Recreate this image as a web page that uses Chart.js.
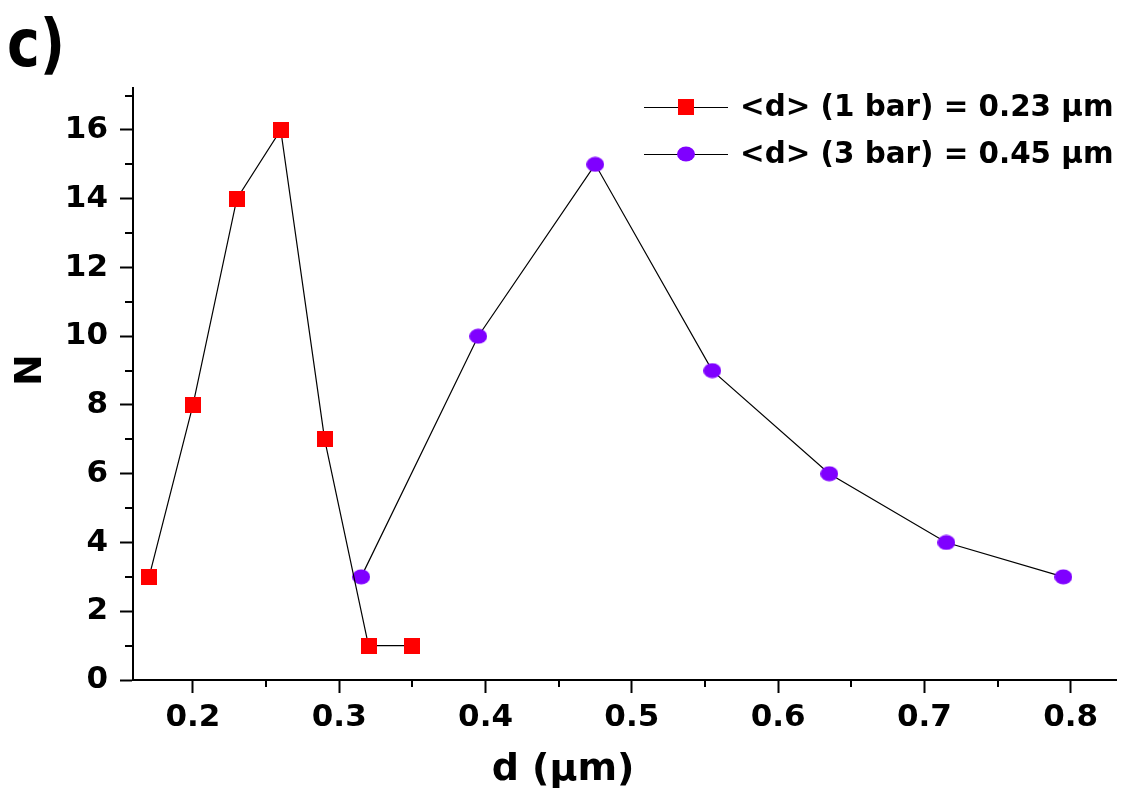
<!DOCTYPE html>
<html>
<head>
<meta charset="utf-8">
<script src="https://cdn.jsdelivr.net/npm/chart.js@4.4.1/dist/chart.umd.min.js"></script>
<style>
  html, body { margin: 0; padding: 0; background: #fff; }
  #wrap { position: relative; width: 1126px; height: 791px; }
</style>
</head>
<body>
<div id="wrap"><canvas id="chart"></canvas></div>
<script>
// values
const bar1X = [0.17, 0.20, 0.23, 0.26, 0.29, 0.32, 0.35];
const bar1N = [3, 8, 14, 16, 7, 1, 1];
const bar3X = [0.315, 0.395, 0.475, 0.555, 0.635, 0.715, 0.795];
const bar3N = [3, 10, 15, 9, 6, 4, 3];

const xTicks = [0.2, 0.3, 0.4, 0.5, 0.6, 0.7, 0.8];
const xMinor = [0.25, 0.35, 0.45, 0.55, 0.65, 0.75];
const yTicks = [0, 2, 4, 6, 8, 10, 12, 14, 16];
const yMinor = [1, 3, 5, 7, 9, 11, 13, 15, 17];

const labels = ["<d> (1 bar) = 0.23 \u03bcm", "<d> (3 bar) = 0.45 \u03bcm"];
const xTitle = "d (\u03bcm)";
const yTitle = "N";
const panelLabel = "c)";

const FONT = "'DejaVu Sans', sans-serif";

function markerImage(kind, color) {
  const c = document.createElement("canvas");
  const ctx = c.getContext("2d");
  if (kind === "square") {
    c.width = 16; c.height = 16;
    ctx.fillStyle = color;
    ctx.fillRect(0, 0, 16, 16);
  } else {
    c.width = 18; c.height = 16;
    ctx.fillStyle = color;
    ctx.beginPath();
    ctx.ellipse(9, 8, 9, 7.6, 0, 0, Math.PI * 2);
    ctx.fill();
  }
  return c;
}

const redSquare = markerImage("square", "#ff0000");
const violetDot = markerImage("dot", "#7f00ff");

const toPoints = (xs, ys) => xs.map((x, i) => ({ x, y: ys[i] }));

// minor ticks, axis titles, legend and panel letter
const extras = {
  id: "extras",
  afterDraw(chart) {
    const { ctx, scales: { x, y } } = chart;
    ctx.save();
    ctx.strokeStyle = "#000";
    ctx.lineWidth = 2;
    ctx.beginPath();
    xMinor.forEach((v) => {
      const px = Math.round(x.getPixelForValue(v));
      ctx.moveTo(px, y.bottom);
      ctx.lineTo(px, y.bottom + 7);
    });
    yMinor.forEach((v) => {
      const py = Math.round(y.getPixelForValue(v));
      ctx.moveTo(x.left, py);
      ctx.lineTo(x.left - 8, py);
    });
    ctx.stroke();

    ctx.fillStyle = "#000";

    // axis titles (the reference has them off-centre)
    ctx.font = `bold 38px ${FONT}`;
    ctx.textAlign = "center";
    ctx.textBaseline = "alphabetic";
    ctx.fillText(xTitle, 563, 780);
    ctx.save();
    ctx.translate(41, 370);
    ctx.rotate(-Math.PI / 2);
    ctx.fillText(yTitle, 0, 0);
    ctx.restore();

    // legend
    const rows = [
      { y: 107, img: redSquare },
      { y: 154, img: violetDot },
    ];
    ctx.font = `bold 29.4px ${FONT}`;
    ctx.textAlign = "left";
    ctx.textBaseline = "middle";
    rows.forEach((r, i) => {
      ctx.lineWidth = 1;
      ctx.beginPath();
      ctx.moveTo(644, r.y + 0.5);
      ctx.lineTo(728, r.y + 0.5);
      ctx.stroke();
      ctx.drawImage(r.img, 686 - r.img.width / 2, r.y - r.img.height / 2);
      ctx.fillText(chart.data.datasets[i].label, 740, r.y + 1);
    });

    // panel letter, slightly condensed
    ctx.save();
    ctx.font = `bold 66px ${FONT}`;
    ctx.textBaseline = "alphabetic";
    ctx.translate(7, 66);
    ctx.scale(0.84, 1);
    ctx.fillText(panelLabel, 0, 0);
    ctx.restore();
    ctx.restore();
  },
};

new Chart(document.getElementById("chart"), {
  type: "line",
  data: {
    datasets: [
      {
        label: labels[0],
        data: toPoints(bar1X, bar1N),
        borderColor: "#000",
        borderWidth: 1.2,
        pointStyle: redSquare,
        tension: 0,
      },
      {
        label: labels[1],
        data: toPoints(bar3X, bar3N),
        borderColor: "#000",
        borderWidth: 1.2,
        pointStyle: violetDot,
        tension: 0,
      },
    ],
  },
  options: {
    responsive: true,
    maintainAspectRatio: false,
    animation: false,
    layout: { padding: { top: 88, right: 10, left: 0, bottom: 0 } },
    plugins: { legend: { display: false }, tooltip: { enabled: false } },
    scales: {
      x: {
        type: "linear",
        min: 0.159,
        max: 0.831,
        afterFit: (s) => { s.height = 111; },
        afterBuildTicks: (s) => { s.ticks = xTicks.map((v) => ({ value: v })); },
        grid: { drawOnChartArea: false, tickLength: 13, tickWidth: 2, tickColor: "#000" },
        border: { display: true, color: "#000", width: 2 },
        ticks: {
          color: "#000",
          padding: 6,
          maxRotation: 0,
          font: { family: FONT, size: 31, weight: "bold" },
          callback: (v) => Number(v).toFixed(1),
        },
      },
      y: {
        min: 0,
        max: 17.22,
        afterFit: (s) => { s.width = 133; },
        afterBuildTicks: (s) => { s.ticks = yTicks.map((v) => ({ value: v })); },
        grid: { drawOnChartArea: false, tickLength: 13, tickWidth: 2, tickColor: "#000" },
        border: { display: true, color: "#000", width: 2 },
        ticks: {
          color: "#000",
          padding: 12,
          font: { family: FONT, size: 31, weight: "bold" },
          callback: (v) => String(v),
        },
      },
    },
  },
  plugins: [extras],
});
</script>
</body>
</html>
